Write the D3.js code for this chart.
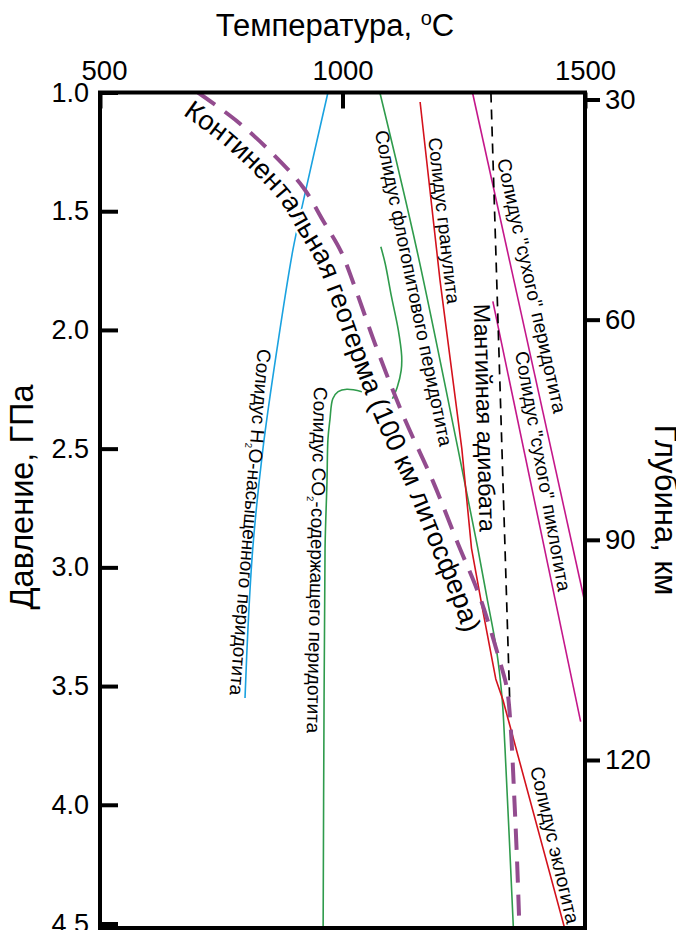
<!DOCTYPE html>
<html><head><meta charset="utf-8">
<script src="https://cdn.jsdelivr.net/npm/d3@7"></script>
<style>
body{margin:0;background:#fff}
svg{display:block}
text{font-family:"Liberation Sans", Arial, Helvetica, sans-serif; fill:#000}
</style>
</head><body>
<svg id="c" width="676" height="930"></svg>
<script>
// ---------- DATA ----------
const tempTicks = [500, 1000, 1500];
const pressureTicks = [1.0, 1.5, 2.0, 2.5, 3.0, 3.5, 4.0, 4.5];
const depthTicks = [30, 60, 90, 120];

// [temperature °C, pressure GPa]
const h2oSolidus = [[970,1.00],[920,1.45],[898,1.66],[865,2.08],[836,2.50],[815,2.92],[805,3.26],[799,3.55]];
const co2Solidus = [[1079,1.65],[1088,1.72],[1101,1.86],[1115,2.00],[1122,2.11],[1121,2.17],[1113,2.24],[1103,2.29],
  null,
  [1040,2.26],[1009,2.25],[991,2.26],[980,2.29],[974,2.38],[970,2.46],[968,2.64],[964,2.92],[962,3.55],[960,4.55]];
const phlogopiteSolidus = [[1077,1.00],[1153,1.66],[1238,2.50],[1279,2.92],[1298,3.13],[1317,3.34],[1329,3.55],[1335,3.76],[1353,4.55]];
const granuliteEclogiteSolidus = [[1160,1.04],[1201,1.79],[1246,2.50],[1266,2.92],[1290,3.19],[1316,3.47],[1331,3.56],[1462,4.55]];
const dryPeridotiteSolidus = [[1268,1.00],[1500,3.15]];
const dryPiclogiteSolidus = [[1310,1.88],[1491,3.65]];
const mantleAdiabat = [[1306,1.00],[1346,3.64]];
const geotherm = [[702,1.00],[782,1.12],[857,1.26],[919,1.40],[960,1.54],[997,1.67],[1022,1.80],[1071,2.08],[1125,2.36],
  [1187,2.64],[1236,2.89],[1284,3.13],[1325,3.40],[1339,3.51],[1347,3.68],[1354,3.96],[1360,4.24],[1364,4.47]];

const geoLabel = "Континентальная геотерма (100 км литосфера)";

// ---------- LAYOUT ----------
const svg = d3.select("#c");
const L = 100, T = 92.5, R = 585, B = 928;
const x = d3.scaleLinear().domain([500,1500]).range([L,R]);
const y = d3.scaleLinear().domain([1,4.5]).range([T,923.5]);
const yd = d3.scaleLinear().domain([30,120]).range([99.5,760]);

const COL = {blue:"#1aa2e0", green:"#2f9b4c", red:"#d4121d", magenta:"#c4178a", purple:"#934c8f", black:"#000"};

svg.append("defs").append("clipPath").attr("id","plotclip")
  .append("rect").attr("x",L).attr("y",T).attr("width",R-L).attr("height",B-T);

const gLines = svg.append("g").attr("clip-path","url(#plotclip)");
const smooth = d3.line().defined(d=>d).x(d=>x(d[0])).y(d=>y(d[1])).curve(d3.curveCatmullRom.alpha(0.5));
const straight = d3.line().defined(d=>d).x(d=>x(d[0])).y(d=>y(d[1]));

function draw(data, gen, color, w, dash){
  const p = gLines.append("path").datum(data).attr("d",gen).attr("fill","none")
    .attr("stroke",color).attr("stroke-width",w).attr("stroke-linejoin","round");
  if(dash) p.attr("stroke-dasharray",dash);
  return p;
}
draw(h2oSolidus, smooth, COL.blue, 1.6);
draw(co2Solidus, smooth, COL.green, 1.6);
draw(phlogopiteSolidus, smooth, COL.green, 1.6);
draw(granuliteEclogiteSolidus, straight, COL.red, 1.6);
draw(dryPeridotiteSolidus, straight, COL.magenta, 1.6);
draw(dryPiclogiteSolidus, straight, COL.magenta, 1.6);
draw(mantleAdiabat, straight, COL.black, 1.7, "10,7");
const geoPath = draw(geotherm, smooth, COL.purple, 4, "21,12");

// ---------- GEOTHERM LABEL (text along offset path) ----------
(function(){
  const node = geoPath.node();
  const len = node.getTotalLength();
  const pts = [];
  for(let s=0; s<=len; s+=2) pts.push(node.getPointAtLength(s));
  const off = 27;
  const offPts = pts.map((p,i)=>{
    const a = pts[Math.max(0,i-4)], b = pts[Math.min(pts.length-1,i+4)];
    const dx=b.x-a.x, dy=b.y-a.y, n=Math.hypot(dx,dy)||1;
    return [p.x - dy/n*off, p.y + dx/n*off];
  });
  svg.select("defs").append("path").attr("id","geoTextPath").attr("d", d3.line()(offPts));
  let cum=0, target=null;
  for(let i=1;i<offPts.length;i++){
    cum += Math.hypot(offPts[i][0]-offPts[i-1][0], offPts[i][1]-offPts[i-1][1]);
    if(target===null && offPts[i][1] >= 634) target = cum;
  }
  if(target===null) target = cum;
  const t = svg.append("text").style("font-size","24px")
    .attr("stroke","#fff").attr("stroke-width",5).attr("stroke-linejoin","round").attr("paint-order","stroke");
  t.append("textPath").attr("href","#geoTextPath").attr("startOffset",0).text(geoLabel);
  const nat = t.node().getComputedTextLength();
  if(nat>0) t.style("font-size", (24*target/nat)+"px");
})();

// ---------- STRAIGHT LABELS ----------
const labels = [
  {parts:[["Солидус Н"],["2","sub"],["О-насыщенного перидотита"]], from:[838,2.08], to:[780,3.54], size:18},
  {parts:[["Солидус CO"],["2","sub"],["-содержащего перидотита"]], from:[954,2.24], to:[939,3.70], size:18},
  {parts:[["Солидус флогопитового перидотита"]], from:[1079,1.16], to:[1213,2.49], size:18},
  {parts:[["Солидус гранулита"]], from:[1189,1.19], to:[1228,1.89], size:18},
  {parts:[["Солидус \"сухого\" перидотита"]], from:[1331,1.28], to:[1448,2.35], size:18},
  {parts:[["Солидус \"сухого\" пиклогита"]], from:[1368,2.09], to:[1457,3.10], size:18},
  {parts:[["Мантийная адиабата"]], from:[1286,1.89], to:[1298,2.85], size:21},
  {parts:[["Солидус эклогита"]], from:[1399,3.84], to:[1475,4.50], size:18}
];
labels.forEach(lb=>{
  const x1=x(lb.from[0]), y1=y(lb.from[1]), x2=x(lb.to[0]), y2=y(lb.to[1]);
  const ang = Math.atan2(y2-y1, x2-x1)*180/Math.PI;
  const len = Math.hypot(x2-x1, y2-y1);
  const t = svg.append("text").attr("transform",`translate(${x1},${y1}) rotate(${ang})`)
    .attr("dy","0.32em").style("font-size", lb.size+"px");
  lb.parts.forEach(p=>{
    if(p[1]==="sub"){
      t.append("tspan").text(p[0]).style("font-size","0.5em").attr("dy","0.5em");
    } else {
      const ts = t.append("tspan").text(p[0]);
      if(t.selectAll("tspan").size()>1) ts.attr("dy","-0.25em");
    }
  });
  const nat = t.node().getComputedTextLength();
  if(nat>0) t.style("font-size", (lb.size*len/nat)+"px");
});

// ---------- AXES ----------
function styleAxis(g, fs){
  g.select(".domain").remove();
  g.selectAll(".tick line").attr("stroke","#000").attr("stroke-width",4);
  g.selectAll(".tick text").attr("fill","#000").style("font-size",fs+"px")
    .style("font-family",'"Liberation Sans", Arial, sans-serif');
}
const gLeft = svg.append("g").attr("transform",`translate(${L},0)`)
  .call(d3.axisLeft(y).tickValues(pressureTicks).tickFormat(d3.format(".1f")).tickSize(-18).tickPadding(11));
styleAxis(gLeft, 27);
const gRight = svg.append("g").attr("transform",`translate(${R},0)`)
  .call(d3.axisRight(yd).tickValues(depthTicks).tickFormat(d3.format("d")).tickSize(15).tickPadding(5));
styleAxis(gRight, 27.5);
const gTop = svg.append("g").attr("transform",`translate(0,${T})`)
  .call(d3.axisTop(x).tickValues(tempTicks).tickFormat(d3.format("d")).tickSize(-16).tickPadding(13));
styleAxis(gTop, 27.5);
gTop.selectAll(".tick text").attr("dx", d => d===500 ? 4 : 0);

svg.append("rect").attr("x",L).attr("y",T).attr("width",R-L).attr("height",B-T)
  .attr("fill","none").attr("stroke","#000").attr("stroke-width",4);

// ---------- AXIS TITLES ----------
const tt = svg.append("text").attr("x",335).attr("y",36).attr("text-anchor","middle").style("font-size","31px");
tt.append("tspan").text("Температура, ");
tt.append("tspan").text("o").style("font-size","20px").attr("dy","-11");
tt.append("tspan").text("C").attr("dy","11");

svg.append("text").attr("transform","translate(33,497) rotate(-90)").attr("text-anchor","middle")
  .style("font-size","32.5px").text("Давление, ГПа");
svg.append("text").attr("transform","translate(655,510) rotate(90)").attr("text-anchor","middle")
  .style("font-size","31px").text("Глубина, км");
</script>
</body></html>
